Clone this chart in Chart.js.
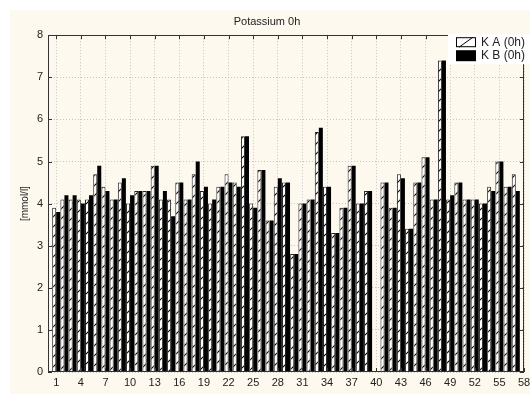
<!DOCTYPE html>
<html>
<head>
<meta charset="utf-8">
<script src="https://cdn.jsdelivr.net/npm/chart.js@4"></script>
<style>
  html, body { margin: 0; padding: 0; background: #fff; }
  #wrap { position: absolute; left: 10px; top: 10px; width: 520px; height: 384px; background: #fdf9ee; }
  canvas { display: block; }
</style>
</head>
<body>
<div id="wrap"><canvas id="myChart" width="520" height="384"></canvas></div>
<script>
const categories = [1,2,3,4,5,6,7,8,9,10,11,12,13,14,15,16,17,18,19,20,21,22,23,24,25,26,27,28,29,30,
    31,32,33,34,35,36,37,38,39,40,41,42,43,44,45,46,47,48,49,50,51,52,53,54,55,56,57];
const kA = [3.9,4.1,4.1,4.1,4.1,4.7,4.4,4.1,4.5,4.0,4.3,4.3,4.9,4.1,4.1,4.5,4.1,4.7,4.3,4.0,
    4.4,4.7,4.5,5.6,4.0,4.8,3.6,4.4,4.5,2.8,4.0,4.1,5.7,4.4,3.3,3.9,4.9,4.0,4.3,null,
    4.5,3.9,4.7,3.4,4.5,5.1,4.1,7.4,4.1,4.5,4.1,4.1,4.0,4.4,5.0,4.4,4.7];
const kB = [3.8,4.2,4.2,4.0,4.2,4.9,4.3,4.1,4.6,4.2,4.3,4.3,4.9,4.3,3.7,4.5,4.1,5.0,4.4,4.1,
    4.4,4.5,4.4,5.6,3.9,4.8,3.6,4.6,4.5,2.8,4.0,4.1,5.8,4.4,3.3,3.9,4.9,4.0,4.3,null,
    4.5,3.9,4.6,3.4,4.5,5.1,4.1,7.4,4.2,4.5,4.1,4.1,4.0,4.3,5.0,4.4,4.3];
const xTicks = [1,4,7,10,13,16,19,22,25,28,31,34,37,40,43,46,49,52,55,58];
const yTicks = [0,1,2,3,4,5,6,7,8];
const seriesNames = ['K A (0h)', 'K B (0h)'];

// diagonal hatch for the first series
function makeHatch() {
    const n = 10;
    const c = document.createElement('canvas');
    c.width = n; c.height = n;
    const g = c.getContext('2d');
    g.fillStyle = '#fff';
    g.fillRect(0, 0, n, n);
    g.strokeStyle = '#000';
    g.lineWidth = 1.1;
    g.beginPath();
    g.moveTo(0, n); g.lineTo(n, 0);
    g.moveTo(-2, 2); g.lineTo(2, -2);
    g.moveTo(n - 2, n + 2); g.lineTo(n + 2, n - 2);
    g.stroke();
    return g.createPattern(c, 'repeat');
}

const framePlugin = {
    id: 'frame',
    afterDatasetsDraw(chart) {
        const ctx = chart.ctx, a = chart.chartArea;
        const xs = chart.scales.x, ys = chart.scales.y;
        ctx.save();
        ctx.strokeStyle = '#333';
        ctx.lineWidth = 1;
        ctx.strokeRect(Math.round(a.left) + 0.5, Math.round(a.top) + 0.5,
            Math.round(a.right - a.left) - 1, Math.round(a.bottom - a.top) - 1);
        ctx.beginPath();
        xs.ticks.forEach(t => {
            const x = Math.round(xs.getPixelForValue(t.value)) + 0.5;
            ctx.moveTo(x, a.top); ctx.lineTo(x, a.top + 4);
            ctx.moveTo(x, a.bottom); ctx.lineTo(x, a.bottom - 4);
        });
        ys.ticks.forEach(t => {
            const y = Math.round(ys.getPixelForValue(t.value)) + 0.5;
            ctx.moveTo(a.left, y); ctx.lineTo(a.left + 4, y);
            ctx.moveTo(a.right, y); ctx.lineTo(a.right - 4, y);
        });
        ctx.stroke();

        // legend, top right inside the plot
        const lx = a.right - 76, ly = a.top - 1;
        ctx.fillStyle = '#fff';
        ctx.fillRect(lx, ly, chart.width - lx, 30);
        const sx = a.right - 68;
        const rows = [a.top + 2, a.top + 15];
        chart.data.datasets.forEach((ds, i) => {
            const y = rows[i];
            if (i === 0) {
                ctx.fillStyle = '#fff';
                ctx.fillRect(sx, y, 20, 10);
                ctx.strokeStyle = '#000';
                ctx.strokeRect(sx + 0.5, y + 0.5, 19, 9);
                ctx.beginPath();
                ctx.moveTo(sx + 3, y + 10); ctx.lineTo(sx + 17, y);
                ctx.stroke();
            } else {
                ctx.fillStyle = '#000';
                ctx.fillRect(sx, y, 20, 11);
            }
            ctx.fillStyle = '#222';
            ctx.font = '12px "Liberation Sans", Arial, sans-serif';
            ctx.textBaseline = 'middle';
            ctx.fillText(ds.label, a.right - 43, y + 5.5);
        });
        ctx.restore();
    }
};

const ctx = document.getElementById('myChart').getContext('2d');
const myChart = new Chart(ctx, {
    type: 'bar',
    data: {
        datasets: [{
            label: seriesNames[0],
            data: categories.map((c, i) => ({ x: c, y: kA[i] })),
            backgroundColor: makeHatch(),
            borderColor: '#222',
            borderWidth: 1
        }, {
            label: seriesNames[1],
            data: categories.map((c, i) => ({ x: c, y: kB[i] })),
            backgroundColor: '#000',
            borderColor: '#000',
            borderWidth: 0
        }]
    },
    options: {
        responsive: false,
        animation: false,
        layout: { padding: { left: 0, right: 6, top: 0, bottom: 0 } },
        datasets: { bar: { categoryPercentage: 0.98, barPercentage: 1 } },
        plugins: {
            legend: { display: false },
            tooltip: { enabled: false },
            title: {
                display: true,
                text: 'Potassium 0h',
                color: '#222',
                font: { family: '"Liberation Sans", Arial, sans-serif', size: 11, weight: 'normal' },
                padding: { top: 5, bottom: 7 }
            }
        },
        scales: {
            x: {
                type: 'linear',
                offset: false,
                min: 0,
                max: 58,
                afterBuildTicks: s => { s.ticks = xTicks.map(v => ({ value: v })); },
                afterFit: s => { s.height = 22; s.paddingLeft = 0; s.paddingRight = 0; },
                ticks: {
                    color: '#222',
                    padding: 4,
                    autoSkip: false,
                    maxRotation: 0,
                    font: { family: '"Liberation Sans", Arial, sans-serif', size: 11 }
                },
                grid: { color: '#c4c4c4', drawTicks: false, offset: false },
                border: { display: false, dash: [1, 2] }
            },
            y: {
                min: 0,
                max: 8,
                afterBuildTicks: s => { s.ticks = yTicks.map(v => ({ value: v })); },
                afterFit: s => { s.width = 38; },
                ticks: {
                    color: '#222',
                    padding: 5,
                    font: { family: '"Liberation Sans", Arial, sans-serif', size: 11 }
                },
                grid: { color: '#c4c4c4', drawTicks: false },
                border: { display: false, dash: [1, 2] },
                title: {
                    display: true,
                    text: '[mmol/l]',
                    color: '#222',
                    padding: { top: 9, bottom: 0 },
                    font: { family: '"Liberation Sans", Arial, sans-serif', size: 10 }
                }
            }
        }
    },
    plugins: [framePlugin]
});
</script>
</body>
</html>
